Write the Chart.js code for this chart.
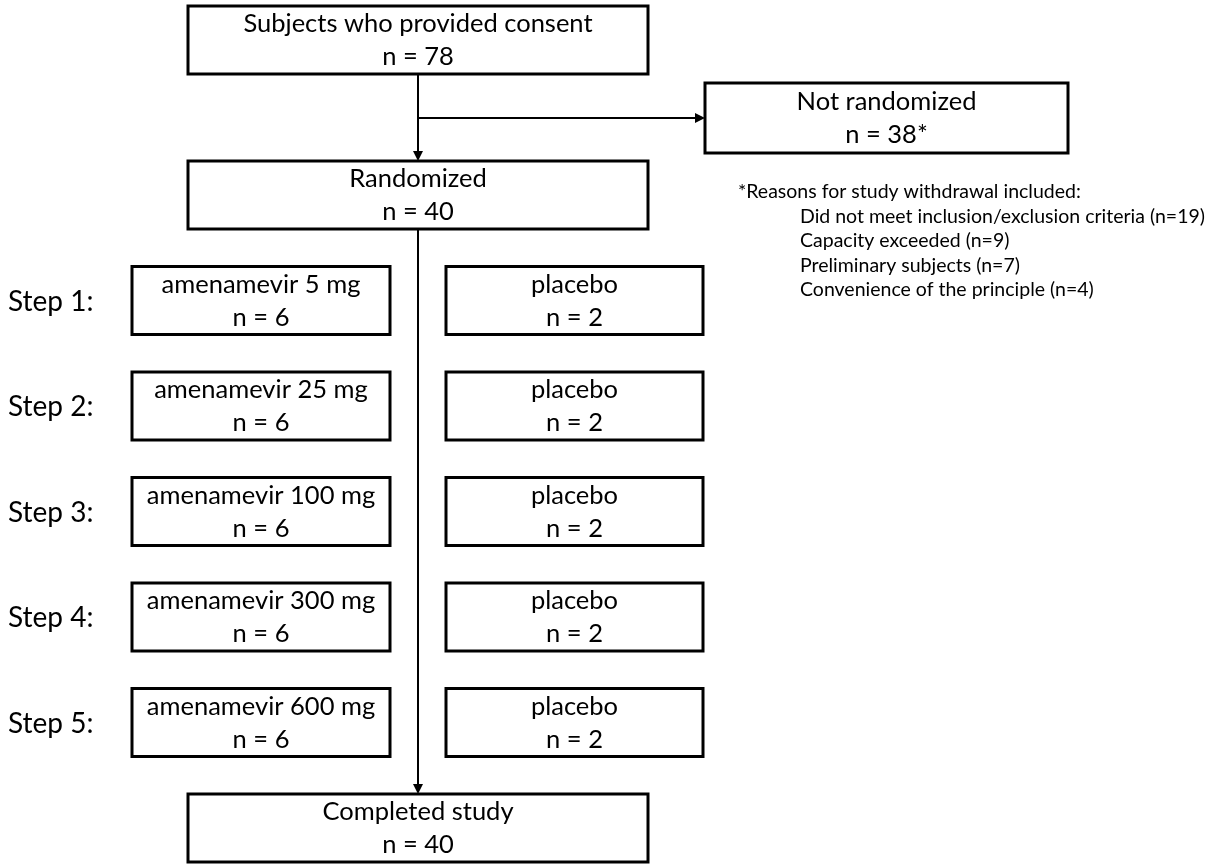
<!doctype html>
<html>
<head>
    <title>Study flow</title>
    <script src="https://cdn.jsdelivr.net/npm/chart.js@4.4.1/dist/chart.umd.min.js"></script>
    <style>
    body { margin: 0; background: #fff; }
    #container { width: 1211px; height: 865px; }
    </style>
</head>
<body>
    <div id="container"><canvas id="canvas"></canvas></div>
    <script>
        var STAGES = ['Subjects who provided consent', 'Randomized', 'Completed study'];
        var STAGE_N = [78, 40, 40];
        var EXCLUDED_LABEL = 'Not randomized';
        var EXCLUDED_N = 38;
        var STEPS = ['Step 1:', 'Step 2:', 'Step 3:', 'Step 4:', 'Step 5:'];
        var DOSES_MG = [5, 25, 100, 300, 600];
        var ACTIVE_N = [6, 6, 6, 6, 6];
        var PLACEBO_N = [2, 2, 2, 2, 2];
        var REASONS_TITLE = '*Reasons for study withdrawal included:';
        var REASONS = ['Did not meet inclusion/exclusion criteria', 'Capacity exceeded', 'Preliminary subjects', 'Convenience of the principle'];
        var REASON_N = [19, 9, 7, 4];

        var FONT = 'Lato, "Open Sans", sans-serif';
        var INK = '#000';

        // layout in chart units (x: 0..1211, y: 0..865 top-down)
        var MAIN_L = 188, MAIN_R = 648, SPINE = 418;
        var BOX_H = 68, PITCH = 105.5;
        var STAGE_TOP = [6, 161, 161 + 6 * PITCH];
        var STEP_TOP0 = 161 + PITCH;
        var ACT_L = 132, ACT_R = 390, PLA_L = 446, PLA_R = 703;
        var EXC = {l: 705, r: 1068, t: 83, b: 153};

        var flowPlugin = {
            id: 'flow',
            afterDraw: function(chart) {
                var ctx = chart.ctx;
                var xs = chart.scales.x, ys = chart.scales.y;
                function px(v) { return xs.getPixelForValue(v); }
                function py(v) { return ys.getPixelForValue(v); }

                function box(l, r, t, b, lines) {
                    ctx.save();
                    ctx.lineWidth = 3;
                    ctx.strokeStyle = INK;
                    ctx.fillStyle = '#fff';
                    ctx.fillRect(px(l), py(t), px(r) - px(l), py(b) - py(t));
                    ctx.strokeRect(px(l), py(t), px(r) - px(l), py(b) - py(t));
                    ctx.fillStyle = INK;
                    ctx.font = '25.5px ' + FONT;
                    ctx.textAlign = 'center';
                    ctx.textBaseline = 'middle';
                    var cy = (t + b) / 2;
                    ctx.fillText(lines[0], px((l + r) / 2), py(cy - 16));
                    ctx.fillText(lines[1], px((l + r) / 2), py(cy + 17));
                    ctx.restore();
                }

                function arrow(x1, y1, x2, y2, head) {
                    ctx.save();
                    ctx.lineWidth = 2;
                    ctx.strokeStyle = INK;
                    ctx.fillStyle = INK;
                    var a = Math.atan2(py(y2) - py(y1), px(x2) - px(x1));
                    var ex = px(x2) - (head ? Math.cos(a) * 8 : 0);
                    var ey = py(y2) - (head ? Math.sin(a) * 8 : 0);
                    ctx.beginPath();
                    ctx.moveTo(px(x1), py(y1));
                    ctx.lineTo(ex, ey);
                    ctx.stroke();
                    if (head) {
                        ctx.beginPath();
                        ctx.moveTo(px(x2), py(y2));
                        ctx.lineTo(px(x2) - Math.cos(a) * 10 - Math.sin(a) * 5, py(y2) - Math.sin(a) * 10 + Math.cos(a) * 5);
                        ctx.lineTo(px(x2) - Math.cos(a) * 10 + Math.sin(a) * 5, py(y2) - Math.sin(a) * 10 - Math.cos(a) * 5);
                        ctx.closePath();
                        ctx.fill();
                    }
                    ctx.restore();
                }

                // connectors
                arrow(SPINE, STAGE_TOP[0] + BOX_H, SPINE, STAGE_TOP[1], true);
                arrow(SPINE, (EXC.t + EXC.b) / 2, EXC.l, (EXC.t + EXC.b) / 2, true);
                arrow(SPINE, STAGE_TOP[1] + BOX_H, SPINE, STAGE_TOP[2], true);

                // main stages
                for (var i = 0; i < STAGES.length; i++) {
                    box(MAIN_L, MAIN_R, STAGE_TOP[i], STAGE_TOP[i] + BOX_H, [STAGES[i], 'n = ' + STAGE_N[i]]);
                }
                box(EXC.l, EXC.r, EXC.t, EXC.b, [EXCLUDED_LABEL, 'n = ' + EXCLUDED_N + '*']);

                // dose steps
                for (var k = 0; k < STEPS.length; k++) {
                    var t = STEP_TOP0 + k * PITCH;
                    box(ACT_L, ACT_R, t, t + BOX_H, ['amenamevir ' + DOSES_MG[k] + ' mg', 'n = ' + ACTIVE_N[k]]);
                    box(PLA_L, PLA_R, t, t + BOX_H, ['placebo', 'n = ' + PLACEBO_N[k]]);
                    ctx.save();
                    ctx.fillStyle = INK;
                    ctx.font = '28px ' + FONT;
                    ctx.textAlign = 'left';
                    ctx.textBaseline = 'middle';
                    ctx.fillText(STEPS[k], px(8), py(t + BOX_H / 2 + 1));
                    ctx.restore();
                }

                // footnote
                ctx.save();
                ctx.fillStyle = INK;
                ctx.font = '19.5px ' + FONT;
                ctx.textAlign = 'left';
                ctx.textBaseline = 'middle';
                ctx.fillText(REASONS_TITLE, px(738), py(192));
                for (var j = 0; j < REASONS.length; j++) {
                    ctx.fillText(REASONS[j] + ' (n=' + REASON_N[j] + ')', px(800), py(216.5 + j * 24.5));
                }
                ctx.restore();
            }
        };

        window.onload = function() {
            var ctx = document.getElementById('canvas').getContext('2d');
            window.flow = new Chart(ctx, {
                type: 'scatter',
                data: { datasets: [] },
                options: {
                    responsive: true,
                    maintainAspectRatio: false,
                    animation: false,
                    devicePixelRatio: 1,
                    layout: { padding: 0 },
                    plugins: { legend: { display: false }, tooltip: { enabled: false } },
                    scales: {
                        x: { type: 'linear', min: 0, max: 1211, display: false },
                        y: { type: 'linear', min: 0, max: 865, reverse: true, display: false }
                    }
                },
                plugins: [flowPlugin]
            });
        };
    </script>
</body>
</html>
